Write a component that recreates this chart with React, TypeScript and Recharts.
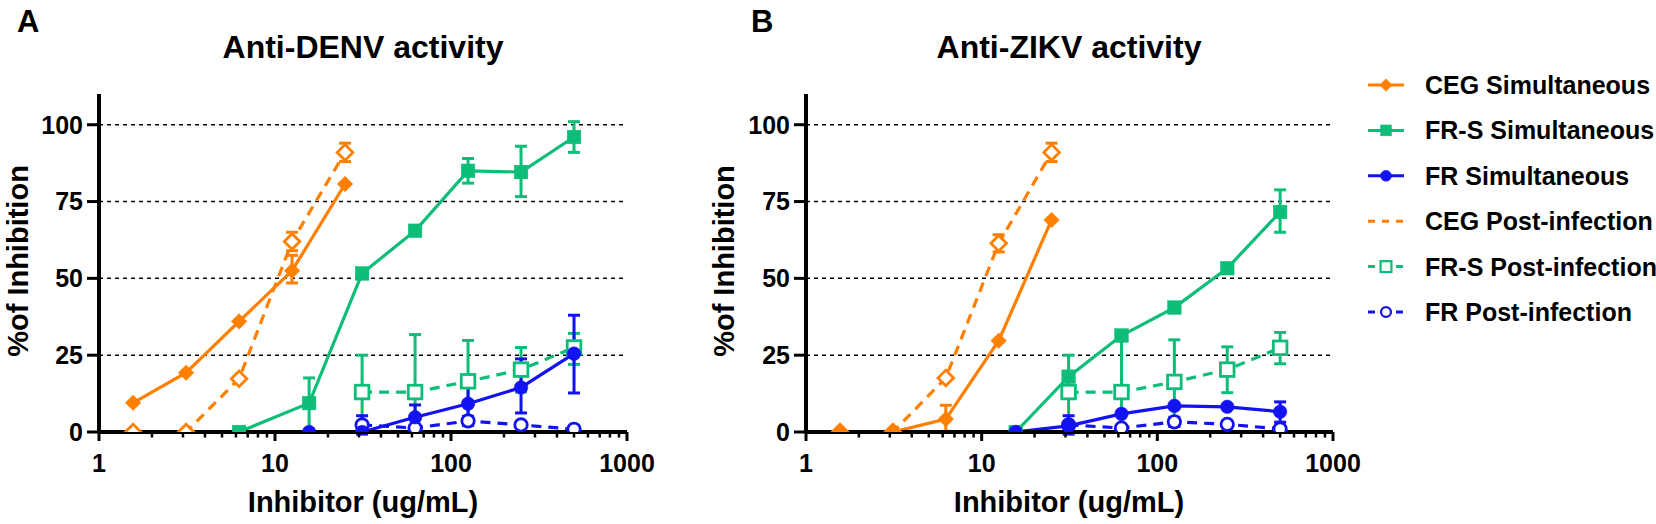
import React from 'react';
import { ComposedChart, Line, XAxis, YAxis, ReferenceLine, ErrorBar, Legend } from 'recharts';

const FONT = '"Liberation Sans", Arial, Helvetica, sans-serif';
const ORANGE = '#FF7F00';
const GREEN = '#0DBD78';
const BLUE = '#1212F2';

// concentrations (ug/mL)
const CEG_X = [1.5625, 3.125, 6.25, 12.5, 25];
const FRS_SIM_X_DENV = [6.25, 15.625, 31.25, 62.5, 125, 250, 500];
const FRS_SIM_X_ZIKV = [15.625, 31.25, 62.5, 125, 250, 500];
const FR_SIM_X = [15.625, 31.25, 62.5, 125, 250, 500];
const POST_X = [31.25, 62.5, 125, 250, 500];

// axis ticks
const X_MAJOR = [1, 10, 100, 1000];
const X_MINOR = [2, 3, 4, 5, 6, 7, 8, 9, 20, 30, 40, 50, 60, 70, 80, 90, 200, 300, 400, 500, 600, 700, 800, 900];
const Y_TICKS = [0, 25, 50, 75, 100];
const GRID_Y = [25, 50, 75, 100];

type Err = [number, number] | null;

// Anti-DENV (% inhibition), errors as [below, above]
const DENV_CEG_SIM = [9.5, 19.3, 36, 52.5, 80.7];
const DENV_CEG_SIM_ERR: Err[] = [null, null, null, [4, 5], null];
const DENV_FRS_SIM = [0, 9.4, 51.6, 65.5, 85, 84.6, 96];
const DENV_FRS_SIM_ERR: Err[] = [null, [9.4, 8.2], null, [1.5, 1.5], [4, 4], [8, 8.4], [5, 5]];
const DENV_FR_SIM = [0, 0, 4.8, 9.2, 14.5, 25.5];
const DENV_FR_SIM_ERR: Err[] = [null, null, [4, 4], [6, 6], [8.3, 9.3], [12.8, 12.5]];
const DENV_CEG_POST = [0, 0, 17.3, 62, 91];
const DENV_CEG_POST_ERR: Err[] = [null, null, null, [3, 3], [3, 3]];
const DENV_FRS_POST = [13, 13, 16.5, 20.3, 27.5];
const DENV_FRS_POST_ERR: Err[] = [[12, 12], [13, 18.7], [13.5, 13.3], [7.3, 7.2], [5.5, 4.6]];
const DENV_FR_POST = [2.3, 1.3, 3.6, 2.3, 0.9];
const DENV_FR_POST_ERR: Err[] = [[3, 3], null, [1.5, 1.5], null, null];

// Anti-ZIKV (% inhibition)
const ZIKV_CEG_SIM = [0, 0, 4.2, 29.7, 69];
const ZIKV_CEG_SIM_ERR: Err[] = [null, null, [4, 4.5], null, null];
const ZIKV_FRS_SIM = [0, 18, 31.4, 40.5, 53.3, 71.6];
const ZIKV_FRS_SIM_ERR: Err[] = [null, null, null, null, null, [6.6, 7.2]];
const ZIKV_FR_SIM = [0, 2, 5.9, 8.5, 8.2, 6.6];
const ZIKV_FR_SIM_ERR: Err[] = [null, null, null, null, null, [3.4, 3.2]];
const ZIKV_CEG_POST = [0, 0, 17.6, 61.4, 91];
const ZIKV_CEG_POST_ERR: Err[] = [null, null, null, [2.8, 2.8], [3, 3]];
const ZIKV_FRS_POST = [13, 13, 16.3, 20.3, 27.4];
const ZIKV_FRS_POST_ERR: Err[] = [[12, 12], [13, 18.7], [13.3, 13.7], [7.5, 7.4], [5.2, 5]];
const ZIKV_FR_POST = [2.3, 1.3, 3.3, 2.5, 1];
const ZIKV_FR_POST_ERR: Err[] = [[3, 3], null, [1.5, 1.5], null, null];

const SERIES_NAMES = [
  'CEG Simultaneous',
  'FR-S Simultaneous',
  'FR Simultaneous',
  'CEG Post-infection',
  'FR-S Post-infection',
  'FR Post-infection',
];

type Shape = 'diamond' | 'square' | 'circle';
interface Style { color: string; shape: Shape; filled: boolean; dashed: boolean; }
const STYLES: Style[] = [
  { color: ORANGE, shape: 'diamond', filled: true, dashed: false },
  { color: GREEN, shape: 'square', filled: true, dashed: false },
  { color: BLUE, shape: 'circle', filled: true, dashed: false },
  { color: ORANGE, shape: 'diamond', filled: false, dashed: true },
  { color: GREEN, shape: 'square', filled: false, dashed: true },
  { color: BLUE, shape: 'circle', filled: false, dashed: true },
];

function build(xs: number[], ys: number[], errs: Err[]) {
  return xs.map((x, i) => ({ x, y: ys[i], err: errs[i] ?? undefined }));
}

const DENV_DATA = [
  build(CEG_X, DENV_CEG_SIM, DENV_CEG_SIM_ERR),
  build(FRS_SIM_X_DENV, DENV_FRS_SIM, DENV_FRS_SIM_ERR),
  build(FR_SIM_X, DENV_FR_SIM, DENV_FR_SIM_ERR),
  build(CEG_X, DENV_CEG_POST, DENV_CEG_POST_ERR),
  build(POST_X, DENV_FRS_POST, DENV_FRS_POST_ERR),
  build(POST_X, DENV_FR_POST, DENV_FR_POST_ERR),
];
const ZIKV_DATA = [
  build(CEG_X, ZIKV_CEG_SIM, ZIKV_CEG_SIM_ERR),
  build(FRS_SIM_X_ZIKV, ZIKV_FRS_SIM, ZIKV_FRS_SIM_ERR),
  build(FR_SIM_X, ZIKV_FR_SIM, ZIKV_FR_SIM_ERR),
  build(CEG_X, ZIKV_CEG_POST, ZIKV_CEG_POST_ERR),
  build(POST_X, ZIKV_FRS_POST, ZIKV_FRS_POST_ERR),
  build(POST_X, ZIKV_FR_POST, ZIKV_FR_POST_ERR),
];

function Marker({ st, cx, cy, s = 1 }: { st: Style; cx: number; cy: number; s?: number }) {
  const fill = st.filled ? st.color : '#fff';
  const sw = st.filled ? 0.5 : 2.8 * s;
  if (st.shape === 'diamond') {
    const r = (st.filled ? 7.8 : 7.8) * s;
    return (
      <polygon
        points={`${cx},${cy - r} ${cx + r},${cy} ${cx},${cy + r} ${cx - r},${cy}`}
        fill={fill}
        stroke={st.color}
        strokeWidth={sw}
      />
    );
  }
  if (st.shape === 'square') {
    const h = (st.filled ? 6.8 : 6.8) * s;
    return <rect x={cx - h} y={cy - h} width={2 * h} height={2 * h} fill={fill} stroke={st.color} strokeWidth={sw} />;
  }
  const r = (st.filled ? 6.8 : 6.2) * s;
  return <circle cx={cx} cy={cy} r={r} fill={fill} stroke={st.color} strokeWidth={sw} />;
}

function XTick(props: any) {
  const { x, y, payload } = props;
  const v = payload?.value;
  const major = X_MAJOR.includes(v);
  return (
    <g>
      <line x1={x} x2={x} y1={y} y2={y + (major ? 9 : 5.5)} stroke="#000" strokeWidth={major ? 3 : 2.5} />
      {major ? (
        <text x={x} y={y + 40} textAnchor="middle" fontSize={25} fontWeight={700} fontFamily={FONT} fill="#000">
          {v}
        </text>
      ) : null}
    </g>
  );
}

function LegendContent() {
  return (
    <svg width={300} height={280} style={{ overflow: 'visible' }}>
      {SERIES_NAMES.map((name, i) => {
        const st = STYLES[i];
        const cy = 25 + i * 45.4;
        return (
          <g key={name}>
            <line
              x1={0}
              x2={36}
              y1={cy}
              y2={cy}
              stroke={st.color}
              strokeWidth={3}
              strokeDasharray={st.dashed ? '7 7' : undefined}
            />
            {i !== 3 ? <Marker st={st} cx={18} cy={cy} s={0.8} /> : null}
            <text x={57} y={cy + 9} fontSize={25} fontWeight={700} fontFamily={FONT} fill="#000">
              {name}
            </text>
          </g>
        );
      })}
    </svg>
  );
}

function Panel({ data, width, marginLeft, marginRight, legend }: { data: any[][]; width: number; marginLeft: number; marginRight: number; legend?: boolean }) {
  const order = [3, 4, 5, 0, 1, 2];
  return (
    <ComposedChart
      width={width}
      height={524}
      margin={{ top: 94, right: marginRight, bottom: 62, left: marginLeft }}
      style={{ fontFamily: FONT }}
    >
      <XAxis
        dataKey="x"
        type="number"
        scale="log"
        domain={[1, 1000]}
        allowDataOverflow
        ticks={[...X_MAJOR, ...X_MINOR].sort((a, b) => a - b)}
        interval={0}
        tickSize={0}
        tickMargin={0}
        tickLine={false}
        tick={(p: any) => <XTick key={`xt-${p.payload?.value}`} {...p} />}
        axisLine={{ stroke: '#000', strokeWidth: 4 }}
        height={30}
      />
      <YAxis
        type="number"
        domain={[0, 110]}
        ticks={Y_TICKS}
        interval={0}
        width={60}
        tickSize={12}
        tickMargin={4}
        tickLine={{ stroke: '#000', strokeWidth: 3 }}
        axisLine={{ stroke: '#000', strokeWidth: 4 }}
        tick={{ fontSize: 25, fontWeight: 700, fill: '#000', fontFamily: FONT }}
        allowDataOverflow
      />
      {GRID_Y.map((g) => (
        <ReferenceLine key={`g-${g}`} y={g} stroke="#000" strokeDasharray="4 4" strokeWidth={1.5} />
      ))}
      {order.map((i) => {
        const st = STYLES[i];
        const d = data[i];
        const hasErr = d.some((p: any) => p.err);
        return (
          <Line
            key={SERIES_NAMES[i]}
            name={SERIES_NAMES[i]}
            data={d}
            dataKey="y"
            type="linear"
            stroke={st.color}
            strokeWidth={3.2}
            strokeDasharray={st.dashed ? '10 7' : undefined}
            isAnimationActive={false}
            activeDot={false}
            legendType="none"
            dot={(p: any) => <Marker key={`m-${i}-${p.index}`} st={st} cx={p.cx} cy={p.cy} />}
          >
            {hasErr ? <ErrorBar dataKey="err" direction="y" width={6} stroke={st.color} strokeWidth={3} /> : null}
          </Line>
        );
      })}
      {legend ? (
        <Legend
          layout="vertical"
          align="center"
          verticalAlign="middle"
          content={() => <LegendContent />}
          wrapperStyle={{ left: 668, top: 60, width: 300, height: 280 }}
        />
      ) : null}
    </ComposedChart>
  );
}

export default function App() {
  return (
    <div style={{ position: 'absolute', left: 0, top: 0, width: 1656, height: 524, background: '#fff', fontFamily: FONT }}>
      <div style={{ position: 'absolute', left: 0, top: 0 }}>
        <Panel data={DENV_DATA} width={660} marginLeft={39} marginRight={33} />
      </div>
      <div style={{ position: 'absolute', left: 700, top: 0 }}>
        <Panel data={ZIKV_DATA} width={956} marginLeft={46} marginRight={323} legend />
      </div>
      <svg width={1656} height={524} style={{ position: 'absolute', left: 0, top: 0, pointerEvents: 'none' }}>
        <g fontFamily={FONT} fontWeight={700} fill="#000">
          <text x={17} y={32} fontSize={31}>A</text>
          <text x={751} y={32} fontSize={31}>B</text>
          <text x={363} y={58} fontSize={32} textAnchor="middle">Anti-DENV activity</text>
          <text x={1069} y={58} fontSize={32} textAnchor="middle">Anti-ZIKV activity</text>
          <text x={28} y={261} fontSize={29} textAnchor="middle" transform="rotate(-90 28 261)">%of Inhibition</text>
          <text x={734} y={261} fontSize={29} textAnchor="middle" transform="rotate(-90 734 261)">%of Inhibition</text>
          <text x={363} y={512} fontSize={29} textAnchor="middle">Inhibitor (ug/mL)</text>
          <text x={1069} y={512} fontSize={29} textAnchor="middle">Inhibitor (ug/mL)</text>
        </g>
      </svg>
    </div>
  );
}
